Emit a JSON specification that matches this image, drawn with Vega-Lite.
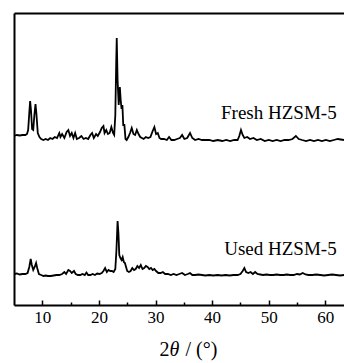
{
  "$schema": "https://vega.github.io/schema/vega-lite/v6.json",
  "width": 330,
  "height": 292,
  "autosize": {"type": "none"},
  "padding": {"left": 14, "top": 13, "right": 0, "bottom": 58},
  "background": "white",
  "config": {"view": {"stroke": null}, "font": "Liberation Serif"},
  "datasets": {
    "fresh": [
      {"t":5.0,"v":169},{"t":5.5,"v":170},{"t":6.0,"v":169.5},{"t":6.5,"v":170},{"t":7.0,"v":170},{"t":7.3,"v":171},{"t":7.5,"v":175},{"t":7.7,"v":192},{"t":7.85,"v":204},{"t":8.0,"v":195},{"t":8.2,"v":176},{"t":8.4,"v":175},{"t":8.6,"v":190},{"t":8.8,"v":201},{"t":8.95,"v":192},{"t":9.2,"v":172},{"t":9.5,"v":168},{"t":9.8,"v":166},{"t":10.2,"v":165},{"t":10.6,"v":166},{"t":11.0,"v":165},{"t":11.4,"v":167},{"t":11.8,"v":166},{"t":12.2,"v":168},{"t":12.6,"v":167},{"t":13.0,"v":172},{"t":13.2,"v":168},{"t":13.5,"v":171},{"t":13.9,"v":167},{"t":14.3,"v":173},{"t":14.6,"v":175},{"t":14.9,"v":169},{"t":15.2,"v":172},{"t":15.5,"v":167},{"t":15.8,"v":172},{"t":16.1,"v":166},{"t":16.5,"v":167},{"t":16.9,"v":169},{"t":17.3,"v":166},{"t":17.7,"v":167},{"t":18.1,"v":166},{"t":18.5,"v":170},{"t":18.8,"v":172},{"t":19.1,"v":167},{"t":19.5,"v":171},{"t":19.8,"v":169},{"t":20.2,"v":173},{"t":20.5,"v":177},{"t":20.8,"v":179},{"t":21.0,"v":172},{"t":21.3,"v":175},{"t":21.6,"v":171},{"t":21.9,"v":172},{"t":22.2,"v":178},{"t":22.5,"v":172},{"t":22.7,"v":170},{"t":22.9,"v":190},{"t":23.05,"v":240},{"t":23.15,"v":267},{"t":23.3,"v":225},{"t":23.5,"v":200},{"t":23.7,"v":218},{"t":23.85,"v":205},{"t":24.0,"v":196},{"t":24.15,"v":200},{"t":24.3,"v":180},{"t":24.5,"v":180},{"t":24.7,"v":166},{"t":24.9,"v":165},{"t":25.2,"v":168},{"t":25.5,"v":172},{"t":25.8,"v":177},{"t":26.1,"v":171},{"t":26.4,"v":170},{"t":26.7,"v":175},{"t":27.0,"v":171},{"t":27.3,"v":168},{"t":27.6,"v":167},{"t":27.9,"v":166},{"t":28.3,"v":168},{"t":28.7,"v":167},{"t":29.1,"v":168},{"t":29.5,"v":174},{"t":29.8,"v":178},{"t":30.1,"v":171},{"t":30.4,"v":172},{"t":30.7,"v":167},{"t":31.0,"v":166},{"t":31.5,"v":166},{"t":32.0,"v":165},{"t":32.4,"v":168},{"t":32.8,"v":165},{"t":33.3,"v":165},{"t":33.8,"v":166},{"t":34.3,"v":167},{"t":34.7,"v":170},{"t":35.1,"v":166},{"t":35.6,"v":167},{"t":36.1,"v":172},{"t":36.5,"v":167},{"t":37.0,"v":165},{"t":37.6,"v":166},{"t":38.2,"v":165},{"t":38.8,"v":165},{"t":39.5,"v":165},{"t":40.2,"v":164},{"t":41.0,"v":165},{"t":41.8,"v":164},{"t":42.5,"v":165},{"t":43.2,"v":164},{"t":43.9,"v":165},{"t":44.5,"v":165},{"t":44.8,"v":169},{"t":45.1,"v":175},{"t":45.4,"v":170},{"t":45.7,"v":167},{"t":46.2,"v":168},{"t":46.7,"v":166},{"t":47.3,"v":167},{"t":47.9,"v":165},{"t":48.6,"v":166},{"t":49.3,"v":164},{"t":50.0,"v":165},{"t":50.7,"v":164},{"t":51.4,"v":165},{"t":52.1,"v":164},{"t":52.8,"v":165},{"t":53.5,"v":165},{"t":54.2,"v":166},{"t":54.8,"v":169},{"t":55.3,"v":166},{"t":55.9,"v":165},{"t":56.6,"v":164},{"t":57.3,"v":165},{"t":58.0,"v":164},{"t":58.7,"v":165},{"t":59.4,"v":164},{"t":60.1,"v":165},{"t":60.8,"v":164},{"t":61.5,"v":165},{"t":62.2,"v":166},{"t":63.3,"v":165}
    ],
    "used": [
      {"t":5.0,"v":31},{"t":5.5,"v":31.5},{"t":6.0,"v":30.5},{"t":6.5,"v":31},{"t":7.0,"v":31},{"t":7.4,"v":32},{"t":7.7,"v":38},{"t":7.95,"v":46},{"t":8.15,"v":40},{"t":8.4,"v":35},{"t":8.65,"v":38},{"t":8.9,"v":42},{"t":9.1,"v":37},{"t":9.4,"v":31},{"t":9.8,"v":30},{"t":10.2,"v":29},{"t":10.6,"v":29.5},{"t":11.0,"v":29},{"t":11.5,"v":29},{"t":12.0,"v":29.5},{"t":12.5,"v":30},{"t":13.0,"v":30},{"t":13.5,"v":31},{"t":13.9,"v":33},{"t":14.2,"v":31},{"t":14.6,"v":35},{"t":14.9,"v":34},{"t":15.2,"v":32},{"t":15.6,"v":34},{"t":15.9,"v":31},{"t":16.3,"v":30},{"t":16.7,"v":30},{"t":17.1,"v":31},{"t":17.5,"v":30},{"t":17.8,"v":32.5},{"t":18.1,"v":30},{"t":18.5,"v":30},{"t":18.9,"v":31},{"t":19.3,"v":30},{"t":19.7,"v":31.5},{"t":20.1,"v":31},{"t":20.5,"v":32},{"t":20.8,"v":34},{"t":21.1,"v":37},{"t":21.4,"v":33},{"t":21.7,"v":35},{"t":22.0,"v":34},{"t":22.3,"v":34},{"t":22.6,"v":33},{"t":22.9,"v":36},{"t":23.1,"v":55},{"t":23.3,"v":84},{"t":23.45,"v":72},{"t":23.6,"v":50},{"t":23.8,"v":47},{"t":24.0,"v":45},{"t":24.2,"v":48},{"t":24.4,"v":43},{"t":24.6,"v":42},{"t":24.8,"v":38},{"t":25.0,"v":34},{"t":25.3,"v":33},{"t":25.6,"v":34},{"t":25.9,"v":37},{"t":26.2,"v":35},{"t":26.5,"v":36},{"t":26.8,"v":39},{"t":27.1,"v":37},{"t":27.4,"v":40},{"t":27.7,"v":36},{"t":28.0,"v":37},{"t":28.3,"v":39},{"t":28.6,"v":38},{"t":28.9,"v":36},{"t":29.2,"v":37},{"t":29.5,"v":35},{"t":29.8,"v":36},{"t":30.1,"v":34},{"t":30.5,"v":32},{"t":30.9,"v":32},{"t":31.3,"v":33},{"t":31.7,"v":31},{"t":32.2,"v":31},{"t":32.7,"v":30},{"t":33.2,"v":31},{"t":33.7,"v":30},{"t":34.2,"v":31},{"t":34.7,"v":32},{"t":35.2,"v":30},{"t":35.7,"v":31},{"t":36.1,"v":32},{"t":36.5,"v":30},{"t":37.0,"v":30},{"t":37.6,"v":30.5},{"t":38.2,"v":30},{"t":38.8,"v":29.5},{"t":39.5,"v":30},{"t":40.2,"v":29.5},{"t":41.0,"v":30},{"t":41.7,"v":29.5},{"t":42.4,"v":30},{"t":43.1,"v":29.5},{"t":43.8,"v":30},{"t":44.5,"v":30},{"t":45.0,"v":31},{"t":45.4,"v":34},{"t":45.7,"v":37},{"t":46.0,"v":33},{"t":46.4,"v":32},{"t":46.8,"v":33},{"t":47.2,"v":31},{"t":47.6,"v":33},{"t":48.0,"v":31},{"t":48.5,"v":30.5},{"t":49.0,"v":30},{"t":49.6,"v":30.5},{"t":50.2,"v":30},{"t":50.8,"v":30},{"t":51.4,"v":30.5},{"t":52.0,"v":30},{"t":52.6,"v":30},{"t":53.2,"v":30.5},{"t":53.8,"v":30},{"t":54.4,"v":30},{"t":55.0,"v":31},{"t":55.5,"v":30.5},{"t":56.0,"v":32},{"t":56.5,"v":30.5},{"t":57.0,"v":30},{"t":57.7,"v":30},{"t":58.4,"v":30.5},{"t":59.1,"v":30},{"t":59.8,"v":29.5},{"t":60.5,"v":30},{"t":61.2,"v":30.5},{"t":61.9,"v":30},{"t":62.6,"v":29.5},{"t":63.3,"v":30}
    ],
    "labels": [
      {"t":62.0,"v":186,"name":"Fresh HZSM-5"},
      {"t":62.0,"v":50,"name":"Used HZSM-5"}
    ]
  },
  "resolve": {"axis": {"x": "independent", "y": "independent"}},
  "layer": [
    {
      "data": {"name": "fresh"},
      "mark": {"type": "line", "color": "black", "strokeWidth": 1.8, "clip": true},
      "encoding": {
        "x": {"field": "t", "type": "quantitative", "scale": {"domain": [5, 63.3], "nice": false, "zero": false},
          "axis": {"orient": "bottom", "values": [10,15,20,25,30,35,40,45,50,55,60],
            "labelExpr": "datum.value % 10 === 0 ? datum.label : ''",
            "tickSize": {"condition": {"test": "datum.value % 10 === 0", "value": -5}, "value": -3},
            "tickColor": "black", "tickWidth": 1.5,
            "domainColor": "black", "domainWidth": 2, "grid": false,
            "labelFont": "Liberation Serif", "labelFontSize": 17, "labelColor": "black", "labelPadding": 9,
            "title": "2", "titleFont": "Liberation Serif", "titleFontSize": 20, "titleFontWeight": "normal", "titleColor": "black",
            "titleAlign": "left", "titleX": 145, "titleY": 50, "titleBaseline": "alphabetic"}},
        "y": {"field": "v", "type": "quantitative", "scale": {"domain": [0, 292], "nice": false},
          "axis": {"orient": "left", "labels": false, "ticks": false, "grid": false, "title": null, "domainColor": "black", "domainWidth": 2}}
      }
    },
    {
      "data": {"name": "used"},
      "mark": {"type": "line", "color": "black", "strokeWidth": 1.8, "clip": true},
      "encoding": {
        "x": {"field": "t", "type": "quantitative",
          "axis": {"orient": "top", "labels": false, "ticks": false, "grid": false, "domainColor": "black", "domainWidth": 2,
            "title": "/ (°)", "titleFont": "Liberation Serif", "titleFontSize": 20, "titleFontWeight": "normal", "titleColor": "black",
            "titleAlign": "left", "titleX": 171, "titleY": 342, "titleBaseline": "alphabetic"}},
        "y": {"field": "v", "type": "quantitative", "axis": null}
      }
    },
    {
      "data": {"name": "labels"},
      "mark": {"type": "text", "align": "right", "baseline": "alphabetic", "font": "Liberation Serif", "fontSize": 19, "color": "black"},
      "encoding": {
        "x": {"field": "t", "type": "quantitative",
          "axis": {"orient": "bottom", "labels": false, "ticks": false, "grid": false, "domain": false,
            "title": "θ", "titleFont": "Liberation Serif", "titleFontSize": 20, "titleFontStyle": "italic", "titleFontWeight": "normal", "titleColor": "black",
            "titleAlign": "left", "titleX": 155, "titleY": 50, "titleBaseline": "alphabetic"}},
        "y": {"field": "v", "type": "quantitative", "axis": null},
        "text": {"field": "name"}
      }
    }
  ]
}
